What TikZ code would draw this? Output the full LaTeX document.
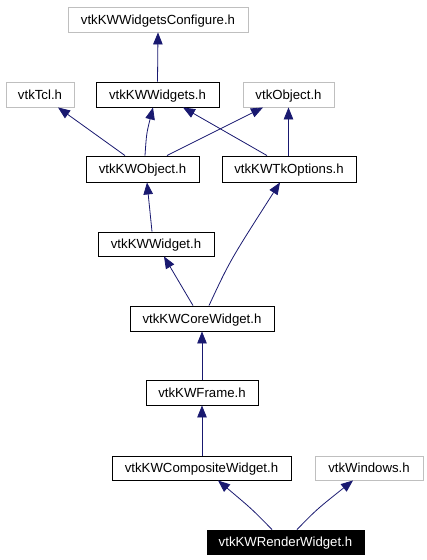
\documentclass[tikz,border=0pt]{standalone}
\usepackage{fontspec}
\setmainfont{Liberation Sans}
\usetikzlibrary{arrows.meta}
\definecolor{edgec}{HTML}{191970}
\definecolor{greyb}{HTML}{BFBFBF}
\tikzset{
  box/.style={draw=black,line width=0.9pt,fill=white,minimum height=25pt,inner sep=0pt,text height=9.5pt,text depth=0pt,font=\fontsize{13.2}{15}\selectfont,text=black},
  gbox/.style={box,draw=greyb},
  selbox/.style={box,fill=black,text=white},
  edge/.style={draw=edgec,line width=0.8pt,-{Triangle[length=12pt,width=9.5pt]}}
}
\begin{document}
\begin{tikzpicture}[x=1pt,y=-1pt]
\useasboundingbox (0,0) rectangle (427,560);
\node[gbox,minimum width=180pt] (conf) at (158,19.5) {vtkKWWidgetsConfigure.h};
\node[gbox,minimum width=68pt] (tcl) at (40,94.5) {vtkTcl.h};
\node[box,minimum width=123pt] (widgets) at (157.5,94.5) {vtkKWWidgets.h};
\node[gbox,minimum width=91pt] (object) at (288.5,94.5) {vtkObject.h};
\node[box,minimum width=113pt,minimum height=26pt] (kwobject) at (142.5,169) {vtkKWObject.h};
\node[box,minimum width=134pt,minimum height=26pt] (tkopt) at (289,169) {vtkKWTkOptions.h};
\node[box,minimum width=116pt,minimum height=24pt] (kwwidget) at (156,244) {vtkKWWidget.h};
\node[box,minimum width=144pt] (core) at (202,318.5) {vtkKWCoreWidget.h};
\node[box,minimum width=112pt] (frame) at (202,392.5) {vtkKWFrame.h};
\node[box,minimum width=179pt,minimum height=24pt] (composite) at (201.5,468) {vtkKWCompositeWidget.h};
\node[gbox,minimum width=108pt,minimum height=24pt] (windows) at (369,468) {vtkWindows.h};
\node[selbox,minimum width=157pt,minimum height=24pt] (render) at (285.5,542) {vtkKWRenderWidget.h};

\draw[edge] (widgets.north) -- (conf.south);
\draw[edge] ([xshift=-17.5pt]kwobject.north) -- ([xshift=18pt]tcl.south);
\draw[edge] ([xshift=2.5pt]kwobject.north) .. controls ([xshift=4pt,yshift=22pt]kwobject.north) .. ([xshift=-4.5pt]widgets.south);
\draw[edge] ([xshift=24.5pt]kwobject.north) -- ([xshift=-25.5pt]object.south);
\draw[edge] ([xshift=-22pt]tkopt.north) -- ([xshift=25.5pt]widgets.south);
\draw[edge] ([xshift=-0.5pt]tkopt.north) -- (object.south);
\draw[edge] ([xshift=-4pt]kwwidget.north) -- ([xshift=4.5pt]kwobject.south);
\draw[edge] ([xshift=-9pt]core.north) -- ([xshift=8pt]kwwidget.south);
\draw[edge] ([xshift=7pt]core.north) .. controls ([xshift=28pt,yshift=45pt]core.north) .. ([xshift=-9pt]tkopt.south);
\draw[edge] (frame.north) -- (core.south);
\draw[edge] ([xshift=0.5pt]composite.north) -- (frame.south);
\draw[edge] ([xshift=-13.5pt]render.north) .. controls ([xshift=-33pt,yshift=20pt]render.north) .. ([xshift=16.5pt]composite.south);
\draw[edge] ([xshift=11.5pt]render.north) .. controls ([xshift=31pt,yshift=20pt]render.north) .. ([xshift=-16pt]windows.south);
\end{tikzpicture}
\end{document}
